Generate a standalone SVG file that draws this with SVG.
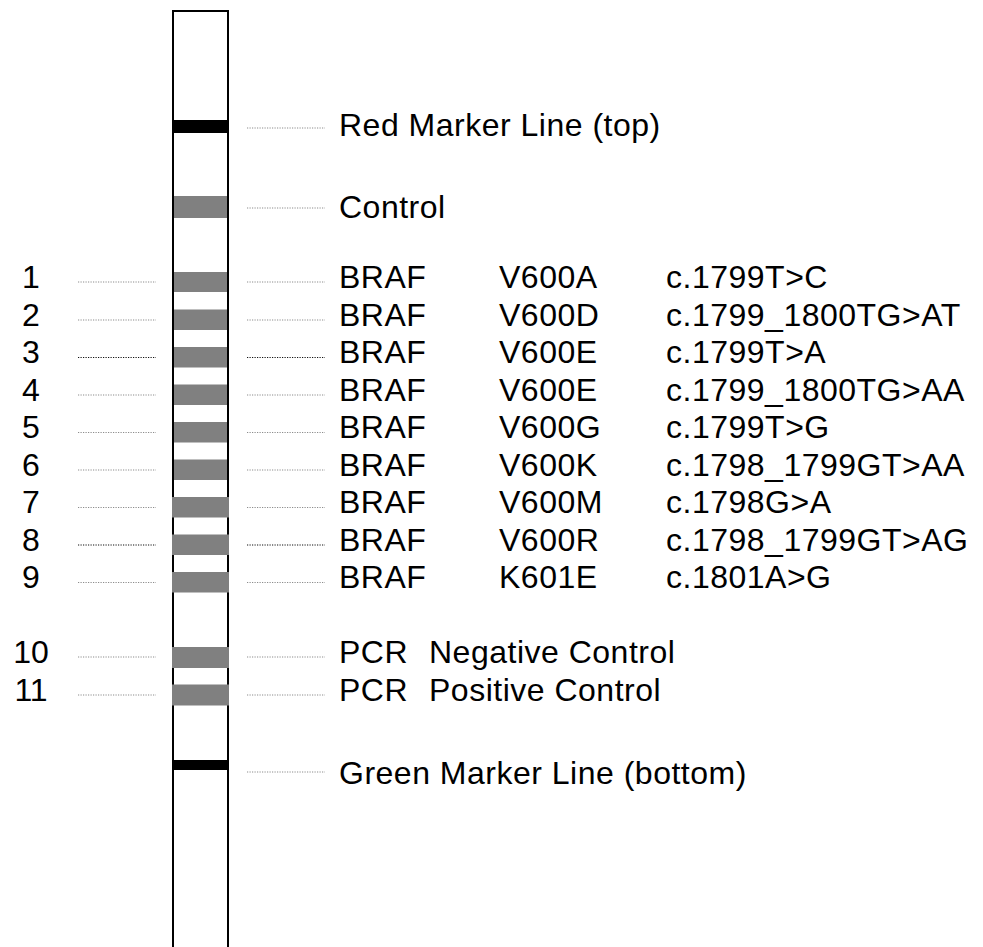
<svg xmlns="http://www.w3.org/2000/svg" width="983" height="947" viewBox="0 0 983 947">
<style>
text{font-family:"Liberation Sans",Arial,sans-serif;font-size:32px;letter-spacing:0.5px;fill:#000}
.num{text-anchor:middle;letter-spacing:0}
.lead{stroke:#8c8c8c;stroke-width:1.2;stroke-dasharray:1.2 1.3;fill:none}
.dark{stroke:#111}
.band{fill:#808080}
.mark{fill:#000}
</style>
<rect width="983" height="947" fill="#fff"/>
<g id="strip">
<rect x="173" y="11" width="55" height="950" fill="#fff" stroke="#000" stroke-width="2"/>
</g>
<g id="red-marker"><rect class="mark" x="174" y="120" width="53" height="13"/><text x="339" y="136">Red Marker Line (top)</text></g>
<g id="control"><rect class="band" x="174" y="196" width="53" height="22"/><text x="339" y="218">Control</text></g>
<g id="row1"><rect class="band" x="174" y="272" width="53" height="20"/><text class="num" x="31" y="288">1</text><text x="339" y="288">BRAF</text><text x="499" y="288">V600A</text><text x="666" y="288">c.1799T&gt;C</text></g>
<g id="row2"><rect class="band" x="174" y="309.5" width="53" height="20.5"/><text class="num" x="31" y="325.5">2</text><text x="339" y="325.5">BRAF</text><text x="499" y="325.5">V600D</text><text x="666" y="325.5">c.1799_1800TG&gt;AT</text></g>
<g id="row3"><rect class="band" x="174" y="347" width="53" height="20.5"/><text class="num" x="31" y="363">3</text><text x="339" y="363">BRAF</text><text x="499" y="363">V600E</text><text x="666" y="363">c.1799T&gt;A</text></g>
<g id="row4"><rect class="band" x="174" y="384.5" width="53" height="20.5"/><text class="num" x="31" y="400.5">4</text><text x="339" y="400.5">BRAF</text><text x="499" y="400.5">V600E</text><text x="666" y="400.5">c.1799_1800TG&gt;AA</text></g>
<g id="row5"><rect class="band" x="174" y="422" width="53" height="20.5"/><text class="num" x="31" y="438">5</text><text x="339" y="438">BRAF</text><text x="499" y="438">V600G</text><text x="666" y="438">c.1799T&gt;G</text></g>
<g id="row6"><rect class="band" x="174" y="459.5" width="53" height="20.5"/><text class="num" x="31" y="475.5">6</text><text x="339" y="475.5">BRAF</text><text x="499" y="475.5">V600K</text><text x="666" y="475.5">c.1798_1799GT&gt;AA</text></g>
<g id="row7"><rect class="band" x="172" y="497" width="57" height="20.5"/><text class="num" x="31" y="513">7</text><text x="339" y="513">BRAF</text><text x="499" y="513">V600M</text><text x="666" y="513">c.1798G&gt;A</text></g>
<g id="row8"><rect class="band" x="172" y="534.5" width="57" height="20.5"/><text class="num" x="31" y="550.5">8</text><text x="339" y="550.5">BRAF</text><text x="499" y="550.5">V600R</text><text x="666" y="550.5">c.1798_1799GT&gt;AG</text></g>
<g id="row9"><rect class="band" x="172" y="572" width="57" height="20.5"/><text class="num" x="31" y="588">9</text><text x="339" y="588">BRAF</text><text x="499" y="588">K601E</text><text x="666" y="588">c.1801A&gt;G</text></g>
<g id="row10"><rect class="band" x="172" y="647" width="57" height="21"/><text class="num" x="31" y="663">10</text><text x="339" y="663">PCR<tspan x="429">Negative Control</tspan></text></g>
<g id="row11"><rect class="band" x="172" y="684.5" width="57" height="21"/><text class="num" x="31" y="701">11</text><text x="339" y="701">PCR<tspan x="429">Positive Control</tspan></text></g>
<g id="green-marker"><rect class="mark" x="174" y="760" width="53" height="10"/><text x="339" y="784">Green Marker Line (bottom)</text></g>
<g id="connectors">
<line class="lead" x1="247" y1="128" x2="325" y2="128"/>
<line class="lead" x1="247" y1="208" x2="325" y2="208"/>
<line class="lead" x1="78" y1="282" x2="156" y2="282"/><line class="lead" x1="247" y1="282" x2="325" y2="282"/>
<line class="lead" x1="78" y1="320" x2="156" y2="320"/><line class="lead" x1="247" y1="320" x2="325" y2="320"/>
<line class="lead dark" x1="78" y1="357.5" x2="156" y2="357.5"/><line class="lead dark" x1="247" y1="357.5" x2="325" y2="357.5"/>
<line class="lead" x1="78" y1="395" x2="156" y2="395"/><line class="lead" x1="247" y1="395" x2="325" y2="395"/>
<line class="lead" x1="78" y1="432.5" x2="156" y2="432.5"/><line class="lead" x1="247" y1="432.5" x2="325" y2="432.5"/>
<line class="lead" x1="78" y1="470" x2="156" y2="470"/><line class="lead" x1="247" y1="470" x2="325" y2="470"/>
<line class="lead" x1="78" y1="507.5" x2="156" y2="507.5"/><line class="lead" x1="247" y1="507.5" x2="325" y2="507.5"/>
<line class="lead dark" x1="78" y1="545" x2="156" y2="545"/><line class="lead dark" x1="247" y1="545" x2="325" y2="545"/>
<line class="lead" x1="78" y1="582.5" x2="156" y2="582.5"/><line class="lead" x1="247" y1="582.5" x2="325" y2="582.5"/>
<line class="lead" x1="78" y1="657" x2="156" y2="657"/><line class="lead" x1="247" y1="657" x2="325" y2="657"/>
<line class="lead" x1="78" y1="695" x2="156" y2="695"/><line class="lead" x1="247" y1="695" x2="325" y2="695"/>
<line class="lead" x1="247" y1="772" x2="325" y2="772"/>
</g>
</svg>
